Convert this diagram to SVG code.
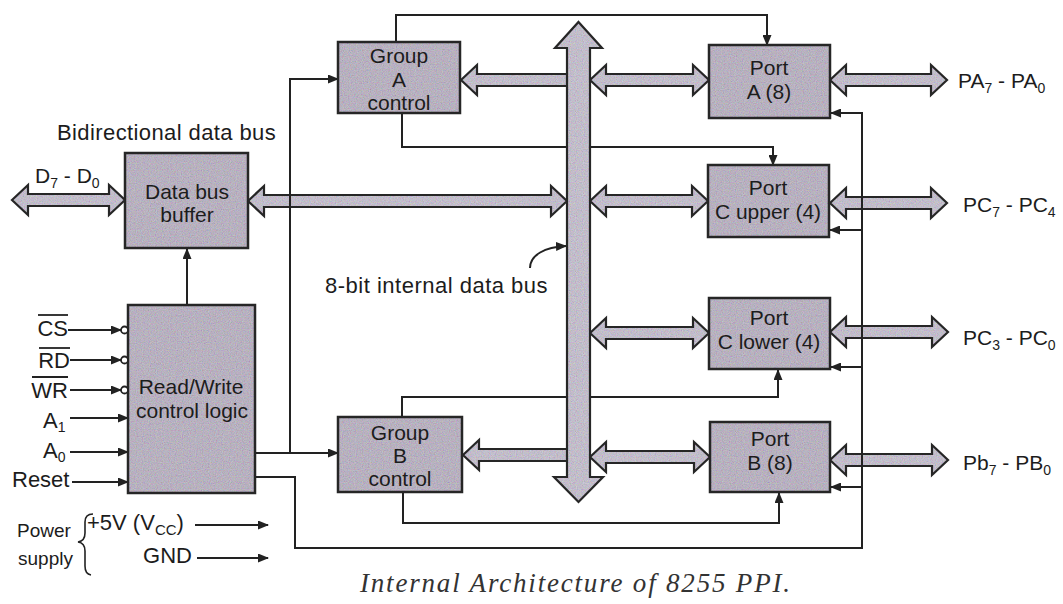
<svg xmlns="http://www.w3.org/2000/svg" width="1063" height="604" viewBox="0 0 1063 604">
  <style>
    text { font-family: "Liberation Sans", Arial, sans-serif; fill: #1c1c1c; }
    text.caption { font-family: "Liberation Serif", "Times New Roman", serif; font-style: italic; font-size: 27px; fill: #333; }
    .box { fill: url(#boxGrain); stroke: #262626; stroke-width: 2.5; }
    .lbl { font-size: 21px; text-anchor: middle; }
    .pin { font-size: 22px; }
    .port { font-size: 21px; }
    .bus { fill: url(#busGrain); stroke: #262626; stroke-width: 2.2; stroke-linejoin: miter; }
    .wire { fill: none; stroke: #222; stroke-width: 2; }
    .arr { marker-end: url(#tip); }
    .bar { stroke: #222; stroke-width: 1.8; }
    .bubble { fill: #fff; stroke: #222; stroke-width: 1.8; }
  </style>
  <defs>
    <filter id="speckle" x="0" y="0" width="100%" height="100%">
      <feTurbulence type="fractalNoise" baseFrequency="0.85" numOctaves="2" seed="7" stitchTiles="stitch"/>
      <feColorMatrix type="matrix" values="1 0 0 0 0  0 1 0 0 0  0 0 1 0 0  0 0 0 0 0.4"/>
    </filter>
    <pattern id="boxGrain" patternUnits="userSpaceOnUse" width="160" height="160">
      <rect width="160" height="160" fill="#b5aac2"/>
      <rect width="160" height="160" filter="url(#speckle)"/>
    </pattern>
    <pattern id="busGrain" patternUnits="userSpaceOnUse" width="160" height="160">
      <rect width="160" height="160" fill="#c6bed4"/>
      <rect width="160" height="160" filter="url(#speckle)"/>
    </pattern>
    <marker id="tip" markerUnits="userSpaceOnUse" markerWidth="11" markerHeight="9" refX="10" refY="4.5" orient="auto">
      <path d="M0,0 L11,4.5 L0,9 Z" fill="#222"/>
    </marker>
  </defs>

  <rect width="1063" height="604" fill="#ffffff"/>

  <!-- connectors: wide bus arrows first, thin control lines on top -->
  <g id="connectors">
    <g id="bus-arrows">
      <polygon class="bus" points="12,200 28,185 28,194 109,194 109,185 125,200 109,215 109,206 28,206 28,215"/>
      <polygon class="bus" points="248,201 264,186 264,195 551,195 551,186 567,201 551,216 551,207 264,207 264,216"/>
      <polygon class="bus" points="590,80 606,65 606,74 693,74 693,65 709,80 693,95 693,86 606,86 606,95"/>
      <polygon class="bus" points="590,201 606,186 606,195 692,195 692,186 708,201 692,216 692,207 606,207 606,216"/>
      <polygon class="bus" points="590,333 606,318 606,327 693,327 693,318 709,333 693,348 693,339 606,339 606,348"/>
      <polygon class="bus" points="590,457 606,442 606,451 694,451 694,442 710,457 694,472 694,463 606,463 606,472"/>
      <polygon class="bus" points="830,80 846,65 846,74 931,74 931,65 947,80 931,95 931,86 846,86 846,95"/>
      <polygon class="bus" points="830,203 846,188 846,197 931,197 931,188 947,203 931,218 931,209 846,209 846,218"/>
      <polygon class="bus" points="830,332 846,317 846,326 932,326 932,317 948,332 932,347 932,338 846,338 846,347"/>
      <polygon class="bus" points="830,460 846,445 846,454 932,454 932,445 948,460 932,475 932,466 846,466 846,475"/>
      <polygon class="bus" points="461,80 477,65 477,74 568,74 568,86 477,86 477,95"/>
      <polygon class="bus" points="463,455 479,440 479,449 568,449 568,461 479,461 479,470"/>
    </g>
    <g id="control-lines">
      <path class="wire arr" d="M187 305 V249"/>
      <path class="wire arr" d="M255 453 H338"/>
      <path class="wire arr" d="M290 453 V79 H338"/>
      <path class="wire arr" d="M255 477 H295 V548 H862 V113 H831"/>
      <path class="wire arr" d="M862 230 H830"/>
      <path class="wire arr" d="M862 367 H831"/>
      <path class="wire arr" d="M862 487 H831"/>
      <path class="wire arr" d="M396 42 V15 H767 V45"/>
      <path class="wire arr" d="M402 113 V147 H773 V165"/>
      <path class="wire arr" d="M402 417 V397 H778 V370"/>
      <path class="wire arr" d="M403 492 V523 H779 V493"/>
      <path class="wire arr" d="M68 330 H121"/>
      <path class="wire arr" d="M70 360 H121"/>
      <path class="wire arr" d="M70 390 H121"/>
      <path class="wire arr" d="M70 418 H128"/>
      <path class="wire arr" d="M70 452 H128"/>
      <path class="wire arr" d="M72 482 H128"/>
      <path class="wire arr" d="M195 525 H268"/>
      <path class="wire arr" d="M197 558 H268"/>
      <path class="wire arr" d="M530 268 C530 255 545 247 566 246"/>
    </g>
  </g>

  <!-- 8-bit internal data bus -->
  <g id="internal-bus">
    <polygon class="bus" points="578.5,22 602,48 590,48 590,477 603,477 578.5,502 554,477 567,477 567,48 555,48"/>
  </g>

  <g id="data-bus-buffer">
    <rect class="box" x="125" y="153" width="123" height="95"/>
    <text class="lbl" x="187" y="199">Data bus</text>
    <text class="lbl" x="187" y="222">buffer</text>
  </g>

  <g id="rw-control-logic">
    <rect class="box" x="128" y="305" width="127" height="188"/>
    <text class="lbl" x="191" y="394">Read/Write</text>
    <text class="lbl" x="192" y="418">control logic</text>
    <circle class="bubble" cx="124.5" cy="330" r="3.5"/>
    <circle class="bubble" cx="124.5" cy="360" r="3.5"/>
    <circle class="bubble" cx="124.5" cy="390" r="3.5"/>
  </g>

  <g id="group-a-control">
    <rect class="box" x="338" y="42" width="122" height="71"/>
    <text class="lbl" x="399" y="63">Group</text>
    <text class="lbl" x="399" y="87">A</text>
    <text class="lbl" x="399" y="110">control</text>
  </g>

  <g id="group-b-control">
    <rect class="box" x="338" y="417" width="124" height="75"/>
    <text class="lbl" x="400" y="440">Group</text>
    <text class="lbl" x="400" y="463">B</text>
    <text class="lbl" x="400" y="486">control</text>
  </g>

  <g id="port-a">
    <rect class="box" x="709" y="45" width="121" height="73"/>
    <text class="lbl" x="769" y="75">Port</text>
    <text class="lbl" x="769" y="99">A (8)</text>
  </g>

  <g id="port-c-upper">
    <rect class="box" x="708" y="165" width="121" height="72"/>
    <text class="lbl" x="768" y="195">Port</text>
    <text class="lbl" x="768" y="219">C upper (4)</text>
  </g>

  <g id="port-c-lower">
    <rect class="box" x="709" y="298" width="121" height="71"/>
    <text class="lbl" x="769" y="325">Port</text>
    <text class="lbl" x="769" y="349">C lower (4)</text>
  </g>

  <g id="port-b">
    <rect class="box" x="710" y="422" width="120" height="70"/>
    <text class="lbl" x="770" y="446">Port</text>
    <text class="lbl" x="770" y="470">B (8)</text>
  </g>

  <!-- labels -->
  <g id="labels">
    <text x="57" y="140" font-size="22" letter-spacing="0.4">Bidirectional data bus</text>
    <text x="35" y="183" font-size="21">D<tspan dy="5" font-size="14">7</tspan><tspan dy="-5"> - D</tspan><tspan dy="5" font-size="14">0</tspan></text>
    <text x="325" y="293" font-size="22" letter-spacing="0.5">8-bit internal data bus</text>

    <text class="pin" x="68" y="336" text-anchor="end">CS</text>
    <line class="bar" x1="38" y1="315" x2="68" y2="315"/>
    <text class="pin" x="70" y="368" text-anchor="end">RD</text>
    <line class="bar" x1="39" y1="348" x2="70" y2="348"/>
    <text class="pin" x="68" y="398" text-anchor="end">WR</text>
    <line class="bar" x1="32" y1="377" x2="68" y2="377"/>
    <text class="pin" x="43" y="428">A<tspan dy="4" font-size="14">1</tspan></text>
    <text class="pin" x="43" y="458">A<tspan dy="4" font-size="14">0</tspan></text>
    <text class="pin" x="12" y="487">Reset</text>

    <text x="17" y="537" font-size="19">Power</text>
    <text x="18" y="565" font-size="19">supply</text>
    <path d="M93 514 Q85 514 85 522 L85 533 Q85 541 78 542 Q85 543 85 551 L85 566 Q85 574 91 575" fill="none" stroke="#222" stroke-width="1.6"/>
    <text x="87" y="530" font-size="22">+5V (V<tspan dy="5" font-size="15">CC</tspan><tspan dy="-5">)</tspan></text>
    <text x="192" y="563" font-size="22" text-anchor="end">GND</text>

    <text class="port" x="958" y="88">PA<tspan dy="5" font-size="14">7</tspan><tspan dy="-5"> - PA</tspan><tspan dy="5" font-size="14">0</tspan></text>
    <text class="port" x="963" y="212">PC<tspan dy="5" font-size="14">7</tspan><tspan dy="-5"> - PC</tspan><tspan dy="5" font-size="14">4</tspan></text>
    <text class="port" x="963" y="345">PC<tspan dy="5" font-size="14">3</tspan><tspan dy="-5"> - PC</tspan><tspan dy="5" font-size="14">0</tspan></text>
    <text class="port" x="963" y="470">Pb<tspan dy="5" font-size="14">7</tspan><tspan dy="-5"> - PB</tspan><tspan dy="5" font-size="14">0</tspan></text>

    <text class="caption" x="360" y="592" textLength="430" lengthAdjust="spacing">Internal Architecture of 8255 PPI.</text>
  </g>
</svg>
